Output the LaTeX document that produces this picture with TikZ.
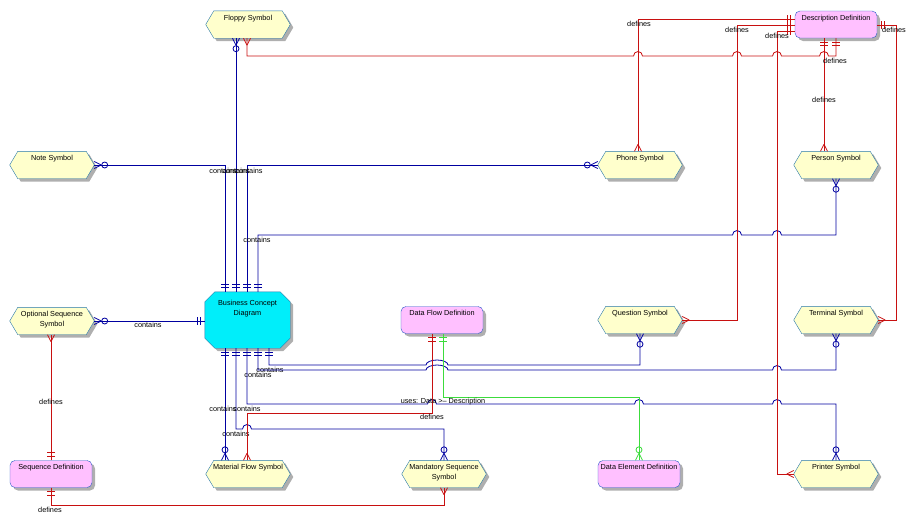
\documentclass[tikz,border=0pt]{standalone}
\usepackage{fontspec}
\setmainfont{Liberation Sans}
\usetikzlibrary{shadows,decorations.markings}

\definecolor{symfill}{RGB}{255,255,204}
\definecolor{symedge}{RGB}{40,120,170}
\definecolor{deffill}{RGB}{255,192,255}
\definecolor{defedge}{RGB}{40,90,200}
\definecolor{diafill}{RGB}{0,238,250}
\definecolor{shade}{RGB}{175,175,175}
\definecolor{bline}{RGB}{0,0,160}
\definecolor{rline}{RGB}{200,16,16}
\definecolor{gline}{RGB}{60,220,60}

% cut-corner shapes: hexagon (pointed ends) and octagon
\newdimen\hxa \newdimen\hxb \newdimen\hya \newdimen\hyb
\newdimen\hxc \newdimen\hxd \newdimen\hyc \newdimen\hyd
\makeatletter
\def\cutcorners#1#2{%
  \southwest \hxa=\pgf@x \hya=\pgf@y
  \northeast \hxb=\pgf@x \hyb=\pgf@y
  \hxc=\hxa \advance\hxc by #1
  \hxd=\hxb \advance\hxd by -#1
  \hyc=\hya \advance\hyc by #2
  \hyd=\hyb \advance\hyd by -#2
  \pgfpathmoveto{\pgfqpoint{\hxa}{\hyc}}%
  \pgfpathlineto{\pgfqpoint{\hxa}{\hyd}}%
  \pgfpathlineto{\pgfqpoint{\hxc}{\hyb}}%
  \pgfpathlineto{\pgfqpoint{\hxd}{\hyb}}%
  \pgfpathlineto{\pgfqpoint{\hxb}{\hyd}}%
  \pgfpathlineto{\pgfqpoint{\hxb}{\hyc}}%
  \pgfpathlineto{\pgfqpoint{\hxd}{\hya}}%
  \pgfpathlineto{\pgfqpoint{\hxc}{\hya}}%
  \pgfpathclose}
\pgfdeclareshape{hexa}{%
  \inheritsavedanchors[from=rectangle]
  \inheritanchorborder[from=rectangle]
  \inheritanchor[from=rectangle]{center}
  \inheritanchor[from=rectangle]{north}
  \inheritanchor[from=rectangle]{south}
  \inheritanchor[from=rectangle]{east}
  \inheritanchor[from=rectangle]{west}
  \inheritanchor[from=rectangle]{text}
  \backgroundpath{\cutcorners{8pt}{13.5pt}}}
\pgfdeclareshape{octa}{%
  \inheritsavedanchors[from=rectangle]
  \inheritanchorborder[from=rectangle]
  \inheritanchor[from=rectangle]{center}
  \inheritanchor[from=rectangle]{north}
  \inheritanchor[from=rectangle]{south}
  \inheritanchor[from=rectangle]{east}
  \inheritanchor[from=rectangle]{west}
  \inheritanchor[from=rectangle]{text}
  \backgroundpath{\cutcorners{10pt}{10pt}}}
\makeatother

\begin{document}
\begin{tikzpicture}[
  x=1pt, y=-1pt,
  font=\fontsize{7.3}{9.5}\selectfont,
  box/.style={minimum height=27pt, inner xsep=1pt, inner ysep=2pt,
    text height=5pt, text depth=14pt, align=center,
    drop shadow={shadow xshift=3pt, shadow yshift=-3pt, fill=shade, opacity=1}},
  two/.style={text height=14.5pt, text depth=4.5pt},
  sym/.style={box, hexa, minimum width=84pt, draw=symedge, fill=symfill},
  defn/.style={box, rectangle, rounded corners=5pt, minimum width=82pt,
    draw=defedge, fill=deffill},
  diagram/.style={box, octa, minimum width=85pt, minimum height=56pt,
    text height=14.5pt, text depth=24.5pt, draw=symedge, fill=diafill},
  link/.style={line width=0.8pt},
  contains/.style={link, color=bline},
  defines/.style={link, color=rline},
  uses/.style={link, color=gline},
  one/.style={postaction={decorate, decoration={markings,
    mark=at position 0 with {\draw (4pt,-4pt) -- (4pt,4pt) (7.5pt,-4pt) -- (7.5pt,4pt);}}}},
  many/.style={postaction={decorate, decoration={markings,
    mark=at position 1 with {\draw (-7pt,0pt) -- (0pt,3.5pt) (-7pt,0pt) -- (0pt,-3.5pt);}}}},
  zmany/.style={many, postaction={decorate, decoration={markings,
    mark=at position 1 with {\draw (-10.5pt,0pt) circle[radius=3pt];}}}},
  lbl/.style={inner sep=0pt, text=black}
]
\useasboundingbox (0,0) rectangle (916,528);

% entities
\node[sym]      (floppy)    at (248,24.5)  {Floppy Symbol};
\node[defn]     (desc)      at (836,24.5)  {Description Definition};
\node[sym]      (note)      at (52,165)    {Note Symbol};
\node[sym]      (phone)     at (640,165)   {Phone Symbol};
\node[sym]      (person)    at (836,165)   {Person Symbol};
\node[sym, two] (optseq)    at (52,321)    {Optional Sequence\\Symbol};
\node[diagram]  (bcd)       at (247.5,320) {Business Concept\\Diagram};
\node[defn]     (dataflow)  at (442,320)   {Data Flow Definition};
\node[sym]      (question)  at (640,320)   {Question Symbol};
\node[sym]      (terminal)  at (836,320)   {Terminal Symbol};
\node[defn]     (seqdef)    at (51,474)    {Sequence Definition};
\node[sym]      (material)  at (248,474)   {Material Flow Symbol};
\node[sym, two] (mandatory) at (444,474)   {Mandatory Sequence\\Symbol};
\node[defn]     (dataelem)  at (639,474)   {Data Element Definition};
\node[sym]      (printer)   at (836,474)   {Printer Symbol};

% contains
\draw[contains, one, zmany] (bcd.north -| 225,0) -- (225,165)
  node[lbl, at={(223,171)}] {contains} -- (note.east);
\draw[contains, one, zmany] (bcd.north -| 236,0) -- (floppy.south -| 236,0)
  node[lbl, at={(236,171)}] {contains};
\draw[contains, one, zmany] (bcd.north -| 247,0) -- (247,165)
  node[lbl, at={(249,171)}] {contains} -- (phone.west);
\draw[contains, one, zmany] (bcd.north -| 258,0) -- (258,235)
  node[lbl, at={(257,240)}] {contains}
  -- (732.5,235) arc[start angle=180, end angle=0, radius=4.5pt]
  -- (772.5,235) arc[start angle=180, end angle=0, radius=4.5pt]
  -- (836,235) -- (person.south -| 836,0);
\draw[contains, one, zmany] (bcd.west |- optseq.east) -- (optseq.east)
  node[lbl, at={(148,325)}] {contains};
\draw[contains, one, zmany] (bcd.south -| 269,0) -- (269,365)
  node[lbl, at={(270,370)}] {contains}
  -- (426,365) arc[start angle=180, end angle=0, x radius=11pt, y radius=5pt]
  -- (640,365) -- (question.south);
\draw[contains, one, zmany] (bcd.south -| 258,0) -- (258,370)
  node[lbl, at={(258,375)}] {contains}
  -- (426,370) arc[start angle=180, end angle=0, x radius=11pt, y radius=5pt]
  -- (772.5,370) arc[start angle=180, end angle=0, radius=4.5pt]
  -- (836,370) -- (terminal.south);
\draw[contains, one, zmany] (bcd.south -| 247,0) -- (247,404)
  node[lbl, at={(247,409)}] {contains}
  -- (427.5,404) arc[start angle=180, end angle=0, radius=4.5pt]
  -- (634.5,404) arc[start angle=180, end angle=0, radius=4.5pt]
  -- (772.5,404) arc[start angle=180, end angle=0, radius=4.5pt]
  -- (836,404) -- (printer.north);
\draw[contains, one, zmany] (bcd.south -| 236,0) -- (236,429)
  node[lbl, at={(236,434)}] {contains}
  -- (242.5,429) arc[start angle=180, end angle=0, radius=4.5pt]
  -- (444,429) -- (mandatory.north);
\draw[contains, one, zmany] (bcd.south -| 225,0) -- (material.north -| 225,0)
  node[lbl, at={(223,409)}] {contains};

% defines
\draw[defines, one, many] (desc.west |- 0,19) -- (638,19)
  node[lbl, at={(639,24)}] {defines} -- (phone.north -| 638,0);
\draw[defines, one, many] (desc.west |- 0,25) -- (737,25)
  node[lbl, at={(737,30)}] {defines} -- (737,320) -- (question.east);
\draw[defines, one, many] (desc.west |- 0,31) -- (777,31)
  node[lbl, at={(777,36)}] {defines} -- (777,474) -- (printer.west);
\draw[defines, one, many] (desc.south -| 824,0) -- (person.north -| 824,0)
  node[lbl, at={(824,100)}] {defines};
\draw[defines, one, many] (desc.south -| 836,0) -- (836,56)
  node[lbl, at={(835,61)}] {defines}
  -- (828.5,56) arc[start angle=0, end angle=180, radius=4.5pt]
  -- (781.5,56) arc[start angle=0, end angle=180, radius=4.5pt]
  -- (741.5,56) arc[start angle=0, end angle=180, radius=4.5pt]
  -- (642.5,56) arc[start angle=0, end angle=180, radius=4.5pt]
  -- (247,56) -- (floppy.south -| 247,0);
\draw[defines, one, many] (desc.east |- 0,25) -- (896,25)
  node[lbl, at={(894,30)}] {defines} -- (896,320) -- (terminal.east);
\draw[defines, one, many] (seqdef.north) -- (seqdef.north |- optseq.south)
  node[lbl, at={(51,402)}] {defines};
\draw[defines, one, many] (seqdef.south) -- (51,505)
  node[lbl, at={(50,510)}] {defines} -- (444,505) -- (mandatory.south);
\draw[defines, one, many] (dataflow.south -| 432,0) -- (432,413)
  node[lbl, at={(432,417)}] {defines} -- (247,413) -- (material.north -| 247,0);

% uses
\draw[uses, one, zmany] (dataflow.south -| 443,0) -- (443,397)
  node[lbl, at={(443,402)}] {uses: Data >-- Description} -- (639,397) -- (dataelem.north);
\end{tikzpicture}
\end{document}
